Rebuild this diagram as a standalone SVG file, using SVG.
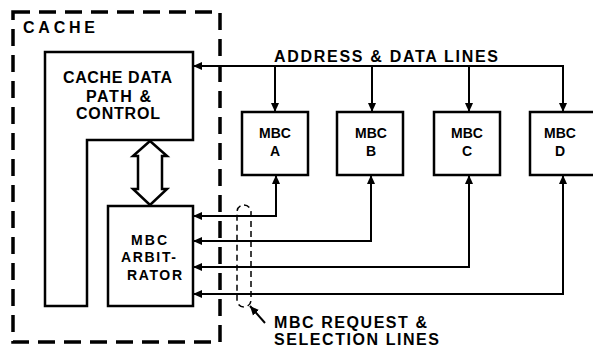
<svg xmlns="http://www.w3.org/2000/svg" width="593" height="350" viewBox="0 0 593 350">
<style>
.box{fill:#fff;stroke:#000;stroke-width:2.5}
.ln{fill:none;stroke:#000;stroke-width:2}
.t{font-family:"Liberation Sans",Arial,sans-serif;font-weight:bold;fill:#000}
.t16{font-size:16px}
.t14{font-size:14px}
</style>
<defs>
<marker id="ah" markerUnits="userSpaceOnUse" markerWidth="10" markerHeight="10" refX="9" refY="4" orient="auto-start-reverse" viewBox="0 0 10 8">
<path d="M0,0 L9,4 L0,8 Z" fill="#000"/>
</marker>
</defs>
<rect width="593" height="350" fill="#fff"/>
<g id="cache">
<rect x="13" y="12" width="207" height="330" fill="none" stroke="#000" stroke-width="3.5" stroke-dasharray="17 9"/>
<text class="t t16" x="23" y="33" textLength="72" lengthAdjust="spacing">CACHE</text>
</g>
<g id="datapath">
<path class="box" d="M45,52 H193 V140 H87 V306 H45 Z"/>
<text class="t t16" x="63" y="83" textLength="109" lengthAdjust="spacing">CACHE DATA</text>
<text class="t t16" x="86" y="102" textLength="65" lengthAdjust="spacing">PATH &amp;</text>
<text class="t t16" x="76" y="119" textLength="84" lengthAdjust="spacing">CONTROL</text>
</g>
<g id="arbiter">
<rect class="box" x="108" y="206" width="85" height="100"/>
<text class="t t14" x="131" y="245" textLength="36" lengthAdjust="spacing">MBC</text>
<text class="t t14" x="121" y="262" textLength="55" lengthAdjust="spacing">ARBIT-</text>
<text class="t t14" x="127" y="280" textLength="55" lengthAdjust="spacing">RATOR</text>
</g>
<g id="mbcA">
<rect class="box" x="242" y="112" width="66" height="63"/>
<text class="t t14" x="275" y="138" text-anchor="middle">MBC</text>
<text class="t t14" x="275" y="156" text-anchor="middle">A</text>
</g>
<g id="mbcB">
<rect class="box" x="337" y="112" width="66" height="63"/>
<text class="t t14" x="371" y="138" text-anchor="middle">MBC</text>
<text class="t t14" x="371" y="156" text-anchor="middle">B</text>
</g>
<g id="mbcC">
<rect class="box" x="434" y="112" width="66" height="63"/>
<text class="t t14" x="467" y="138" text-anchor="middle">MBC</text>
<text class="t t14" x="467" y="156" text-anchor="middle">C</text>
</g>
<g id="mbcD">
<rect class="box" x="530" y="112" width="66" height="63"/>
<text class="t t14" x="560" y="138" text-anchor="middle">MBC</text>
<text class="t t14" x="560" y="156" text-anchor="middle">D</text>
</g>
<g id="connectors">
<path class="ln" d="M193,66 H563 V112" marker-start="url(#ah)" marker-end="url(#ah)"/>
<path class="ln" d="M275,66 V112" marker-end="url(#ah)"/>
<path class="ln" d="M372,66 V112" marker-end="url(#ah)"/>
<path class="ln" d="M469,66 V112" marker-end="url(#ah)"/>
<path class="ln" d="M193,216 H276 V175" marker-start="url(#ah)" marker-end="url(#ah)"/>
<path class="ln" d="M193,241 H371 V175" marker-start="url(#ah)" marker-end="url(#ah)"/>
<path class="ln" d="M193,267 H469 V175" marker-start="url(#ah)" marker-end="url(#ah)"/>
<path class="ln" d="M193,294 H563 V175" marker-start="url(#ah)" marker-end="url(#ah)"/>
<path d="M150,141 L133,156 L138,156 L138,189 L133,189 L150,205 L167,189 L162,189 L162,156 L167,156 Z" fill="#fff" stroke="#000" stroke-width="2.5" stroke-linejoin="miter"/>
<rect x="237" y="205" width="14" height="102" rx="7" fill="none" stroke="#000" stroke-width="1.5" stroke-dasharray="6 4"/>
<line class="ln" x1="265" y1="323" x2="250" y2="306" marker-end="url(#ah)"/>
</g>
<g id="labels">
<text class="t t16" x="274" y="62" textLength="224" lengthAdjust="spacing">ADDRESS &amp; DATA LINES</text>
<text class="t t16" x="274" y="328" textLength="153" lengthAdjust="spacing">MBC REQUEST &amp;</text>
<text class="t t16" x="274" y="345" textLength="165" lengthAdjust="spacing">SELECTION LINES</text>
</g>
</svg>
